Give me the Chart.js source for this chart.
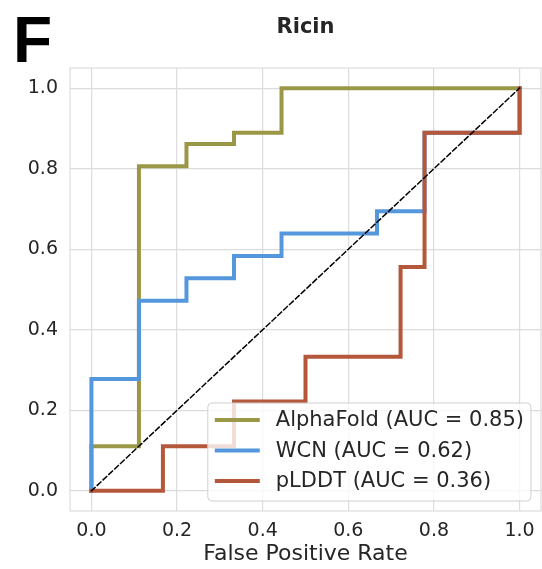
<!DOCTYPE html>
<html>
<head>
<meta charset="utf-8">
<script src="https://cdn.jsdelivr.net/npm/chart.js@4.4.1/dist/chart.umd.min.js"></script>
<style>
  html, body { margin: 0; padding: 0; background: #fff; }
  #wrap { position: relative; width: 542px; height: 569px; }
</style>
</head>
<body>
<div id="wrap"><canvas id="rocChart"></canvas></div>
<script>
// ROC curves - Ricin (panel F)
const fprAlphaFold = [0, 0, 0.111, 0.111, 0.222, 0.222, 0.333, 0.333, 0.444, 0.444, 1];
const tprAlphaFold = [0, 0.111, 0.111, 0.806, 0.806, 0.861, 0.861, 0.889, 0.889, 1, 1];

const fprWCN = [0, 0, 0.111, 0.111, 0.222, 0.222, 0.333, 0.333, 0.444, 0.444, 0.667, 0.667, 0.778, 0.778, 1, 1];
const tprWCN = [0, 0.278, 0.278, 0.472, 0.472, 0.528, 0.528, 0.583, 0.583, 0.639, 0.639, 0.694, 0.694, 0.889, 0.889, 1];

const fprPLDDT = [0, 0.167, 0.167, 0.333, 0.333, 0.5, 0.5, 0.722, 0.722, 0.778, 0.778, 1, 1];
const tprPLDDT = [0, 0, 0.111, 0.111, 0.222, 0.222, 0.333, 0.333, 0.556, 0.556, 0.889, 0.889, 1];

const diagonal = [0, 1];

const seriesNames = ['AlphaFold', 'WCN', 'pLDDT'];
const aucValues = [0.85, 0.62, 0.36];
const tickValues = [0, 0.2, 0.4, 0.6, 0.8, 1.0];

const colors = ['#9a9846', '#5597dc', '#b4573b'];
const textColor = '#262626';
const gridColor = '#dcdcdc';

function toPoints(xs, ys) {
    return xs.map((x, i) => ({ x: x, y: ys[i] }));
}

const labels = seriesNames.map((n, i) => n + ' (AUC = ' + aucValues[i].toFixed(2) + ')');

// titulo, letra do painel, moldura e legenda
const overlay = {
    id: 'overlay',
    afterDraw(chart) {
        const c = chart.ctx;
        const a = chart.chartArea;
        c.save();

        // moldura completa
        c.strokeStyle = gridColor;
        c.lineWidth = 1.2;
        c.strokeRect(a.left, a.top, a.right - a.left, a.bottom - a.top);

        // letra do painel
        c.fillStyle = '#000';
        c.font = 'bold 64px "Liberation Sans", Arial, sans-serif';
        c.textAlign = 'left';
        c.textBaseline = 'alphabetic';
        c.fillText('F', 13, 62);

        // titulo
        c.fillStyle = textColor;
        c.font = 'bold 21px "DejaVu Sans"';
        c.textAlign = 'center';
        c.textBaseline = 'middle';
        c.fillText('Ricin', (a.left + a.right) / 2, 28);

        // legenda
        c.font = '21px "DejaVu Sans"';
        let maxW = 0;
        labels.forEach(l => { maxW = Math.max(maxW, c.measureText(l).width); });
        const boxW = 7 + 45 + 16 + maxW + 7;
        const boxH = 98;
        const bx = a.right - 10 - boxW;
        const by = a.bottom - 10 - boxH;
        c.beginPath();
        c.roundRect(bx, by, boxW, boxH, 4);
        c.fillStyle = 'rgba(255,255,255,0.8)';
        c.fill();
        c.strokeStyle = '#d0d0d0';
        c.lineWidth = 1;
        c.stroke();

        labels.forEach((l, i) => {
            const yy = by + 17 + i * 30.5;
            c.strokeStyle = colors[i];
            c.lineWidth = 4;
            c.lineCap = 'butt';
            c.beginPath();
            c.moveTo(bx + 7, yy);
            c.lineTo(bx + 52, yy);
            c.stroke();
            c.fillStyle = textColor;
            c.textAlign = 'left';
            c.textBaseline = 'middle';
            c.fillText(l, bx + 68, yy + 1);
        });
        c.restore();
    }
};

const ctx = document.getElementById('rocChart').getContext('2d');
const rocChart = new Chart(ctx, {
    type: 'line',
    data: {
        datasets: [{
            label: 'chance',
            data: toPoints(diagonal, diagonal),
            borderColor: '#000',
            borderWidth: 1.5,
            borderDash: [5, 3],
            order: 0
        }, {
            label: labels[2],
            data: toPoints(fprPLDDT, tprPLDDT),
            borderColor: colors[2],
            borderWidth: 4,
            order: 1
        }, {
            label: labels[1],
            data: toPoints(fprWCN, tprWCN),
            borderColor: colors[1],
            borderWidth: 4,
            order: 2
        }, {
            label: labels[0],
            data: toPoints(fprAlphaFold, tprAlphaFold),
            borderColor: colors[0],
            borderWidth: 4,
            order: 3
        }]
    },
    options: {
        responsive: true,
        maintainAspectRatio: false,
        animation: false,
        elements: {
            point: { radius: 0 },
            line: { tension: 0, fill: false, borderJoinStyle: 'miter', borderCapStyle: 'square' }
        },
        layout: { padding: { left: 0, top: 68, right: 1, bottom: 0 } },
        plugins: {
            legend: { display: false },
            tooltip: { enabled: false }
        },
        scales: {
            x: {
                type: 'linear',
                min: -0.05,
                max: 1.05,
                afterBuildTicks: s => { s.ticks = tickValues.map(v => ({ value: v })); },
                afterFit: s => { s.height = 58; s.paddingLeft = 0; s.paddingRight = 0; },
                grid: { color: gridColor, lineWidth: 1.2, drawTicks: false },
                border: { display: false },
                ticks: {
                    color: textColor,
                    font: { family: 'DejaVu Sans', size: 19 },
                    padding: 9,
                    maxRotation: 0,
                    callback: v => v.toFixed(1)
                },
                title: {
                    display: true,
                    text: 'False Positive Rate',
                    color: textColor,
                    font: { family: 'DejaVu Sans', size: 22 },
                    padding: { top: 0, bottom: 2 }
                }
            },
            y: {
                type: 'linear',
                min: -0.05,
                max: 1.05,
                afterBuildTicks: s => { s.ticks = tickValues.map(v => ({ value: v })); },
                afterFit: s => { s.width = 70; s.paddingTop = 0; s.paddingBottom = 0; },
                grid: { color: gridColor, lineWidth: 1.2, drawTicks: false },
                border: { display: false },
                ticks: {
                    color: textColor,
                    font: { family: 'DejaVu Sans', size: 19 },
                    padding: 12,
                    callback: v => v.toFixed(1)
                }
            }
        }
    },
    plugins: [overlay]
});
</script>
</body>
</html>
